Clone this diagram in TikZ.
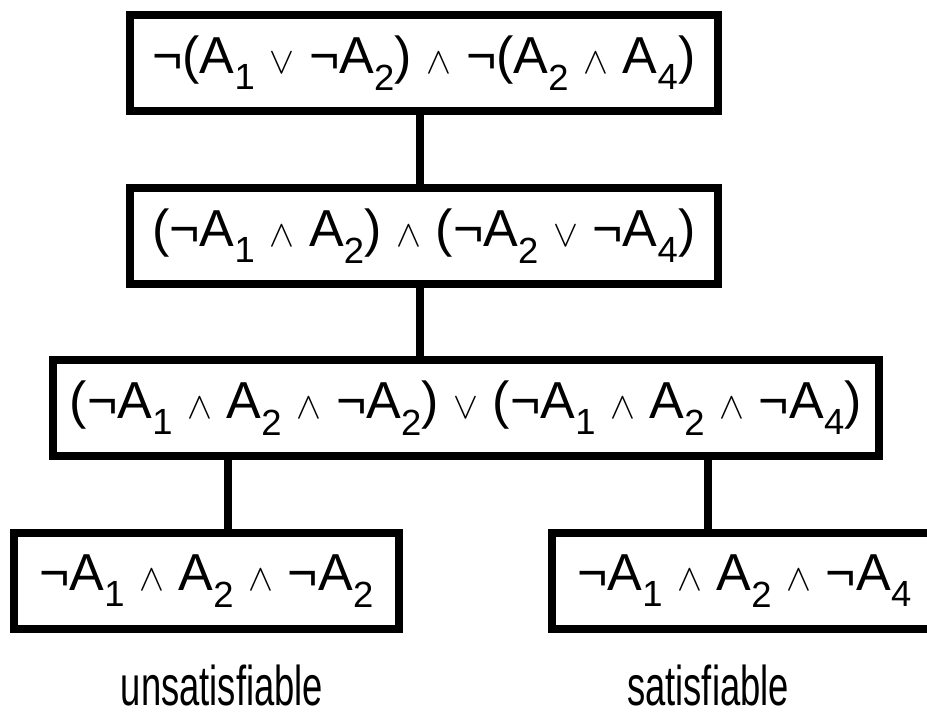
\documentclass[tikz,border=0pt]{standalone}
\usepackage{fontspec}
\setmainfont{Liberation Sans}
\newcommand{\ssub}[1]{\textsubscript{#1}}
\newcommand{\lAnd}{\scalebox{1.5}{\ensuremath{\wedge}}}
\newcommand{\lOr}{\scalebox{1.5}{\ensuremath{\vee}}}
\newcommand{\narrowtext}[1]{\scalebox{0.65}[1]{#1}}
\begin{document}
\begin{tikzpicture}[x=1pt,y=-1pt,
  box/.style={draw=black, line width=8pt, fill=white, rectangle, inner sep=0pt,
    minimum height=96pt, font=\fontsize{52}{60}\selectfont},
  conn/.style={draw=black, line width=8pt},
  lbl/.style={font=\fontsize{56}{62}\selectfont, inner sep=0pt, anchor=base}]
\useasboundingbox[fill=white] (0,0) rectangle (927,724);
\node[box, minimum width=588pt] (b1) at (424,63)
  {¬(A\ssub{1} \lOr{} ¬A\ssub{2}) \lAnd{} ¬(A\ssub{2} \lAnd{} A\ssub{4})};
\node[box, minimum width=588pt] (b2) at (424,236)
  {(¬A\ssub{1} \lAnd{} A\ssub{2}) \lAnd{} (¬A\ssub{2} \lOr{} ¬A\ssub{4})};
\node[box, minimum width=826pt] (b3) at (466,408)
  {(¬A\ssub{1} \lAnd{} A\ssub{2} \lAnd{} ¬A\ssub{2}) \lOr{} (¬A\ssub{1} \lAnd{} A\ssub{2} \lAnd{} ¬A\ssub{4})};
\node[box, minimum width=385pt] (b4) at (206.5,581)
  {¬A\ssub{1} \lAnd{} A\ssub{2} \lAnd{} ¬A\ssub{2}};
\node[box, minimum width=385pt] (b5) at (744.5,581)
  {¬A\ssub{1} \lAnd{} A\ssub{2} \lAnd{} ¬A\ssub{4}};
\coordinate (c1) at (420,0);
\coordinate (c2) at (228,0);
\coordinate (c3) at (708,0);
\draw[conn] (b1.south -| c1) -- (b2.north -| c1);
\draw[conn] (b2.south -| c1) -- (b3.north -| c1);
\draw[conn] (b3.south -| c2) -- (b4.north -| c2);
\draw[conn] (b3.south -| c3) -- (b5.north -| c3);
\node[lbl] (u) at (222,705) {\narrowtext{unsatisfiable}};
\node[lbl] (s) at (708,705) {\narrowtext{satisfiable}};
\end{tikzpicture}
\end{document}
